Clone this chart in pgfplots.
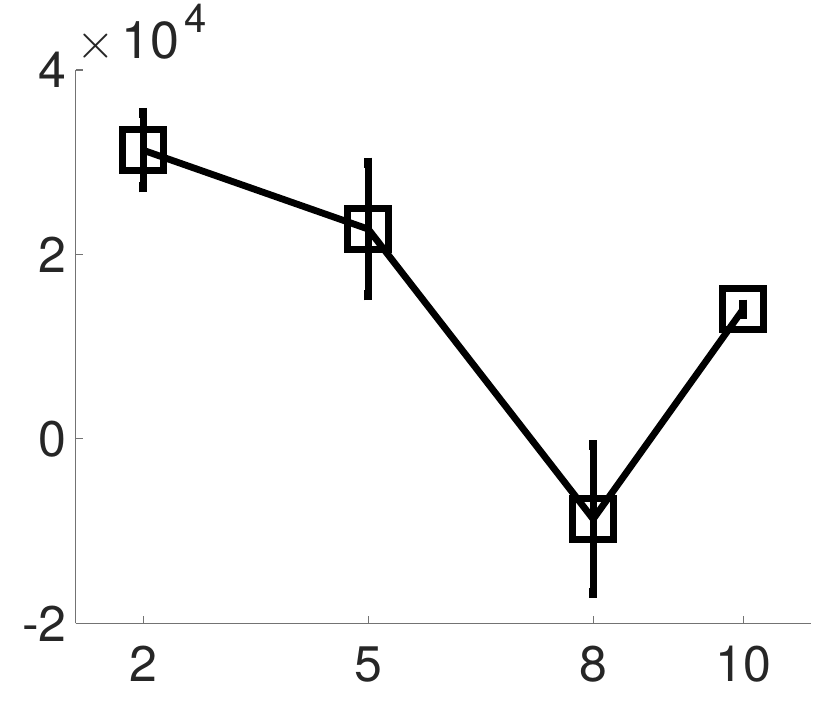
\documentclass[border=0pt]{standalone}
\usepackage{fontspec}
\setmainfont{TeX Gyre Heros}
\usepackage{pgfplots}
\pgfplotsset{compat=1.18}
\definecolor{txt}{rgb}{0.15,0.15,0.15}
\begin{document}
\begin{tikzpicture}
\useasboundingbox (-37.85pt,-39.85pt) rectangle (377.65pt,311.65pt);
\begin{axis}[
  at={(0,0)}, anchor=south west,
  scale only axis,
  width=367.5pt, height=276.65pt,
  xmin=1.1, xmax=10.9,
  ymin=-20000, ymax=40000,
  axis lines=left,
  axis line style={-, draw=black!55, line width=0.6pt},
  tick style={draw=black!55, line width=0.6pt},
  tick align=inside,
  major tick length=3.5pt,
  xtick={2,5,8,10},
  ytick={-20000,0,20000,40000},
  yticklabels={-2,0,2,4},
  scaled y ticks=false,
  font=\fontsize{25}{28}\selectfont,
  ticklabel style={text=txt, font=\fontsize{25}{28}\selectfont},
  xticklabel style={yshift=-8pt},
  yticklabel style={xshift=-1pt},
  /pgf/number format/assume math mode=true,
  clip=false,
]
\addplot[black, line width=3.4pt,
  mark=square, mark size=10.3pt, mark options={line width=3.6pt, fill=none, solid},
  error bars/.cd, y dir=both, y explicit,
  error bar style={line width=3.4pt, black},
  error mark=-,
  error mark options={line width=4pt, mark size=2.5pt, black},
] coordinates {
  (2,31300) +- (0,4040)
  (5,22750) +- (0,7200)
  (8,-8700) +- (0,8000)
  (10,14070) +- (0,500)
};
\node[anchor=base west, inner sep=0pt, text=txt, xshift=0pt, yshift=6pt,
  font=\fontsize{26}{28}\selectfont]
  at (rel axis cs:0,1) {$\times$\hspace{3.5pt}10\hspace{2.5pt}\raisebox{13pt}{\fontsize{20}{21}\selectfont 4}};
\end{axis}
\end{tikzpicture}
\end{document}
